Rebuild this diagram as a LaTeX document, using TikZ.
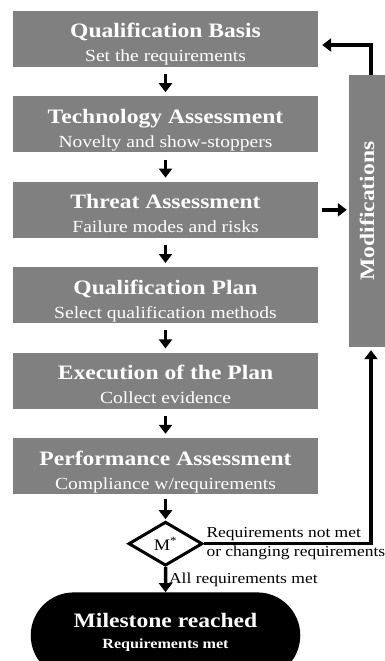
\documentclass[tikz,border=0pt]{standalone}
\usepackage{fontspec}
\setmainfont[FakeStretch=1.15]{Liberation Serif}
\usetikzlibrary{arrows.meta,shapes.geometric,shapes.misc,positioning}
\definecolor{boxgray}{RGB}{128,128,128}
\newcommand{\steptitle}{\bfseries}
\newcommand{\stepsub}{\fontsize{17}{24}\selectfont}

\begin{document}
\begin{tikzpicture}[
      x=1pt, y=-1pt,
      node distance=29pt,
      stepbox/.style={rectangle,fill=boxgray,text=white,minimum width=305pt,
                  minimum height=56pt,inner sep=0pt,align=center,
                  text height=51pt,text depth=5pt,
                  font=\fontsize{20.5}{24}\selectfont},
      modbox/.style={rectangle,fill=boxgray,text=white,minimum width=36pt,
                  minimum height=272pt,inner sep=0pt,
                  font=\fontsize{20.5}{24}\selectfont\bfseries},
      decision/.style={diamond,draw,line width=3pt,fill=white,minimum width=74pt,
                  minimum height=44pt,inner sep=0pt,font=\fontsize{16}{18}\selectfont},
      goal/.style={rounded rectangle,fill=black,text=white,minimum width=247pt,
                  minimum height=86pt,inner sep=0pt,align=center,
                  text height=56pt,text depth=30pt,
                  font=\fontsize{20.5}{21}\selectfont},
      note/.style={inner sep=0.8pt,font=\fontsize{15.2}{17}\selectfont},
      arr/.style={-{Triangle[length=9pt,width=13pt]},line width=3.5pt},
      >=Latex
    ]
    \useasboundingbox (0,0) rectangle (385,661);

    \node[stepbox] (qb) at (165.5,39) {{\steptitle Qualification Basis}\\{\stepsub Set the requirements}};
    \node[stepbox,below=of qb] (tech) {{\steptitle Technology Assessment}\\{\stepsub Novelty and show-stoppers}};
    \node[stepbox,below=of tech] (ta) {{\steptitle Threat Assessment}\\{\stepsub Failure modes and risks}};
    \node[stepbox,below=of ta] (qp) {{\steptitle Qualification Plan}\\{\stepsub Select qualification methods}};
    \node[stepbox,below=of qp] (ep) {{\steptitle Execution of the Plan}\\{\stepsub Collect evidence}};
    \node[stepbox,below=of ep] (pa) {{\steptitle Performance Assessment}\\{\stepsub Compliance w/requirements}};

    \node[decision,below=26pt of pa] (dm) {M\textsuperscript{*}};
    \node[goal,below=25pt of dm] (ms) {{\bfseries Milestone reached}\\{\fontsize{14}{21}\selectfont\bfseries Requirements met}};

    \node[modbox] (mod) at (367,211) {\rotatebox{90}{Modifications}};

    \draw[arr,shorten <=7pt,shorten >=4pt] (qb) -- (tech);
    \draw[arr,shorten <=7pt,shorten >=4pt] (tech) -- (ta);
    \draw[arr,shorten <=7pt,shorten >=4pt] (ta) -- (qp);
    \draw[arr,shorten <=7pt,shorten >=4pt] (qp) -- (ep);
    \draw[arr,shorten <=7pt,shorten >=4pt] (ep) -- (pa);
    \draw[arr,shorten <=5pt,shorten >=1pt] (pa) -- (dm);
    \draw[arr] (dm) -- node[note,right,xshift=1pt]{All requirements met} (ms);

    \draw[arr,shorten <=4pt,shorten >=2pt] (ta.east) -- (ta.east -| mod.west);
    \draw[arr,shorten >=4pt] ([xshift=4pt]mod.north) |- ([yshift=-6pt]qb.east);
    \draw[arr,shorten >=3pt] (dm.east) -| node[note,pos=0,anchor=south west]{Requirements not met}
      node[note,pos=0,anchor=north west]{or changing requirements} ([xshift=4pt]mod.south);

  \end{tikzpicture}
\end{document}
